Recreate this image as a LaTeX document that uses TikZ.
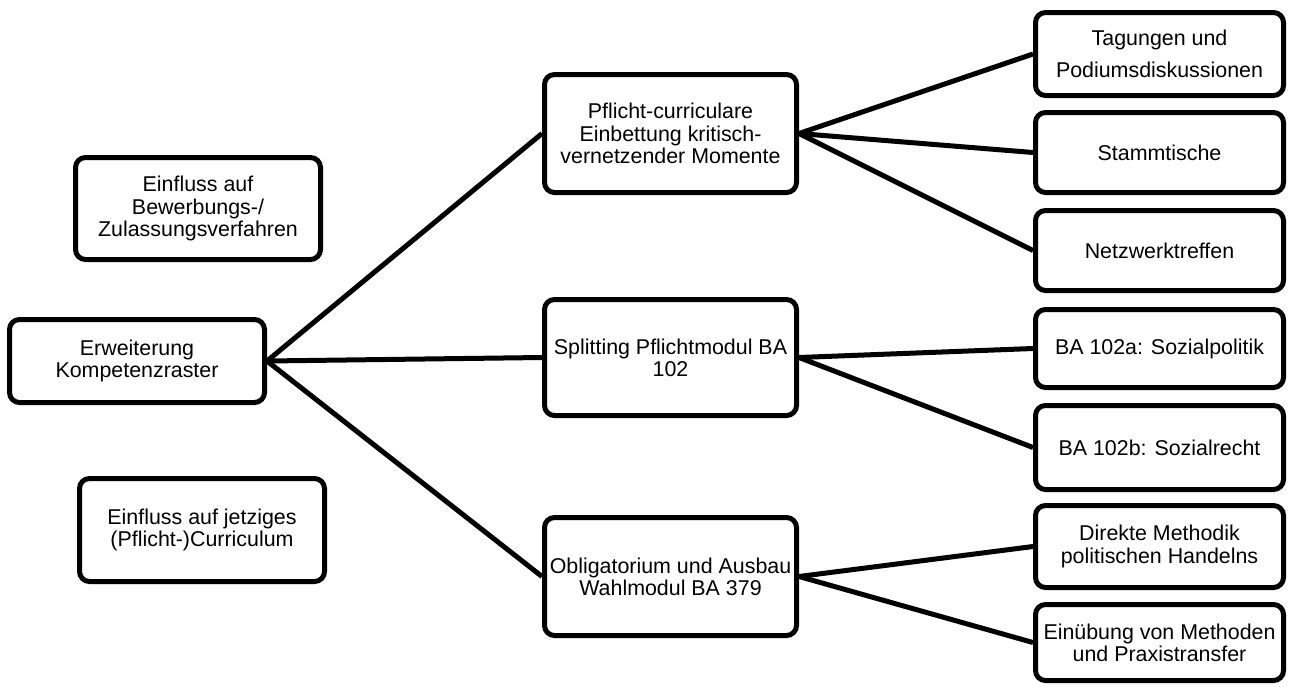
\documentclass[tikz,border=0pt]{standalone}
\usepackage{fontspec}
\setmainfont{Liberation Sans}
\begin{document}
\begin{tikzpicture}[x=1pt,y=-1pt,
  box/.style={draw=black, line width=5pt, rounded corners=10pt, fill=white,
    inner sep=0pt, align=center, minimum width=248pt,
    font=\fontsize{21.4}{22.2}\selectfont},
  link/.style={draw=black, line width=5pt}]
\useasboundingbox (0,0) rectangle (1289,686);

% left column
\node[box, minimum width=245pt, minimum height=102pt] (bew) at (198,208.5)
  {Einfluss auf\\Bewerbungs-/\\Zulassungsverfahren};
\node[box, minimum width=255pt, minimum height=83pt] (erw) at (137,361)
  {Erweiterung\\Kompetenzraster};
\node[box, minimum width=245pt, minimum height=103pt] (cur) at (202,530)
  {Einfluss auf jetziges\\(Pflicht-)Curriculum};

% middle column
\node[box, minimum width=252pt, minimum height=118pt] (pfl) at (670.5,133.5)
  {Pflicht-curriculare\\Einbettung kritisch-\\vernetzender Momente};
\node[box, minimum width=252pt, minimum height=116pt] (spl) at (670.5,357.5)
  {Splitting Pflichtmodul BA\\102};
\node[box, minimum width=252pt, minimum height=118pt] (obl) at (670.5,576.5)
  {Obligatorium und Ausbau\\Wahlmodul BA 379};

% right column
\node[box, minimum height=83pt, font=\fontsize{21.4}{32}\selectfont] (tag) at (1159.5,54)
  {Tagungen und\\Podiumsdiskussionen};
\node[box, minimum height=80pt] (sta) at (1159.5,152.5) {Stammtische};
\node[box, minimum height=80pt] (net) at (1159.5,250.5) {Netzwerktreffen};
\node[box, minimum height=78pt] (baa) at (1159.5,348.5) {BA 102a: Sozialpolitik};
\node[box, minimum height=84pt] (bab) at (1159.5,447.5) {BA 102b: Sozialrecht};
\node[box, minimum height=82pt] (dir) at (1159.5,546.5)
  {Direkte Methodik\\politischen Handelns};
\node[box, minimum height=76pt] (ein) at (1159.5,642.5)
  {Einübung von Methoden\\und Praxistransfer};

% connectors
\foreach \t in {pfl,spl,obl} \draw[link] (erw.east) -- (\t.west);
\foreach \t in {tag,sta,net} \draw[link] (pfl.east) -- (\t.west);
\foreach \t in {baa,bab} \draw[link] (spl.east) -- (\t.west);
\foreach \t in {dir,ein} \draw[link] (obl.east) -- (\t.west);
\end{tikzpicture}
\end{document}
